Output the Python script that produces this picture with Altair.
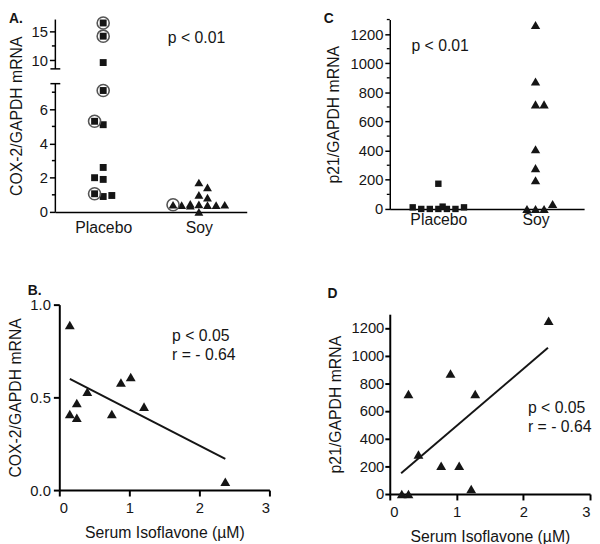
import altair as alt
import pandas as pd

FONT = "Liberation Sans"
INK = "#151515"
RING = "#555555"

# ---------------- Panel A: COX-2/GAPDH mRNA by group (broken y axis) ----------------
a_groups = ["Placebo", "Soy"]
a_placebo_values = [16.5, 14.2, 9.6, 7.1, 5.3, 5.1, 2.6, 2.0, 1.9, 1.06, 0.9, 0.96]
a_placebo_slots = [0, 0, 0, 0, -1, 0, 0, -1, 0, -1, 0, 1]
a_placebo_ring = [1, 1, 0, 1, 1, 0, 0, 0, 0, 1, 0, 0]
a_soy_values = [0.42, 0.40, 0.47, 0.36, 1.72, 1.0, 0.44, 0.0, 1.43, 0.83, 0.40, 0.40, 0.42]
a_soy_slots = [-3, -2, -1, -1, 0, 0, 0, 0, 1, 1, 1, 2, 3]
a_soy_ring = [1, 0, 0, 0, 0, 0, 0, 0, 0, 0, 0, 0, 0]
a_segments_lo = [0, 8.5]
a_segments_hi = [7.5, 17.1]
a_major_ticks = [0, 2, 4, 6, 10, 15]
a_minor_ticks = [1, 3, 5, 7, 12.5]
a_note = "p < 0.01"

# ---------------- Panel C: p21/GAPDH mRNA by group ----------------
c_placebo_values = [11, 0, 0, 0, 173, 16, 0, 0, 11]
c_placebo_slots = [-3, -2, -1, 0, 0, 0.5, 1, 2, 3]
c_soy_values = [1263, 875, 718, 410, 280, 197, 0, 718, 0, 0, 34]
c_soy_slots = [0, 0, 0, 0, 0, 0, 0, 1, 1, -1, 2]
c_major_ticks = [0, 200, 400, 600, 800, 1000, 1200]
c_minor_ticks = [100, 300, 500, 700, 900, 1100, 1300]
c_note = "p < 0.01"

# ---------------- Panel B: COX-2 vs serum isoflavone ----------------
b_isoflavone = [0.15, 0.15, 0.25, 0.25, 0.40, 0.75, 0.88, 1.02, 1.21, 2.37]
b_cox2 = [0.89, 0.41, 0.47, 0.39, 0.53, 0.41, 0.58, 0.61, 0.45, 0.045]
b_fit_x = [0.15, 2.37]
b_fit_y = [0.60, 0.168]
b_notes = ["p < 0.05", "r = - 0.64"]

# ---------------- Panel D: p21 vs serum isoflavone ----------------
d_isoflavone = [0.18, 0.28, 0.28, 0.43, 0.77, 0.91, 1.04, 1.22, 1.28, 2.38]
d_p21 = [0, 0, 723, 286, 205, 871, 205, 36, 723, 1252]
d_fit_x = [0.17, 2.37]
d_fit_y = [150, 1057]
d_notes = ["p < 0.05", "r = - 0.64"]

x_title = "Serum Isoflavone (\u00b5M)"


def group_frame(values, slots, group, ring=None):
    return pd.DataFrame({
        "value": values,
        "slot": slots,
        "g": [group] * len(values),
        "ring": ring if ring is not None else [0] * len(values),
    })


def label(text, x, y):
    return alt.Chart(pd.DataFrame({"t": [text]})).mark_text(
        align="left", baseline="top", fontSize=14, fontWeight="bold", color=INK, font=FONT
    ).encode(x=alt.value(x), y=alt.value(y), text="t:N")


# ======================= Panel A =======================
a_df = pd.concat([
    group_frame(a_placebo_values, a_placebo_slots, 0, a_placebo_ring),
    group_frame(a_soy_values, a_soy_slots, 1, a_soy_ring),
], ignore_index=True)

xA = alt.Scale(domain=[0, 2], range=[0, 194], nice=False, zero=False)
yA = alt.Scale(domain=[0, 7.5, 8.5, 17.1], range=[195, 65, 50, 0], nice=False, zero=False)

a_x_axis = alt.Axis(values=[0.5, 1.5], labelExpr="datum.value < 1 ? 'Placebo' : 'Soy'",
                    ticks=False, labelPadding=8, labelFontSize=16, title=None, grid=False,
                    domainWidth=1.5)
a_y_axis = alt.Axis(values=a_major_ticks, format="d", title="COX-2/GAPDH mRNA", domain=False,
                    tickSize=6, tickWidth=1.5, labelPadding=2, titlePadding=7, grid=False)


def a_x(field):
    return alt.X(field, scale=xA, axis=a_x_axis)


def a_y(field):
    return alt.Y(field, scale=yA, axis=a_y_axis)


a_base = alt.Chart(a_df).transform_calculate(xpos="datum.g + 0.5 + datum.slot * 0.09")

a_placebo_pts = a_base.transform_filter("datum.g == 0").mark_point(
    shape="square", filled=True, size=49, color=INK, opacity=1
).encode(x=a_x("xpos:Q"), y=a_y("value:Q"))

a_soy_pts = a_base.transform_filter("datum.g == 1").mark_point(
    shape="triangle-up", filled=True, size=81, color=INK, opacity=1
).encode(x=a_x("xpos:Q"), y=a_y("value:Q"))

a_rings = a_base.transform_filter("datum.ring == 1").mark_point(
    shape="circle", filled=False, size=150, stroke=RING, strokeWidth=1.6, opacity=1
).encode(x=a_x("xpos:Q"), y=a_y("value:Q"))

a_seg = alt.Chart(pd.DataFrame({"lo": a_segments_lo, "hi": a_segments_hi})).mark_rule(
    color="black", strokeWidth=1.5
).encode(x=alt.value(0), y=a_y("lo:Q"), y2="hi:Q")

a_breaks = alt.Chart(pd.DataFrame({"v": [a_segments_hi[0], a_segments_lo[1]]})).mark_rule(
    color="black", strokeWidth=1.5
).encode(x=alt.value(-5), x2=alt.value(5), y=a_y("v:Q"))

a_minor = alt.Chart(pd.DataFrame({"v": a_minor_ticks})).mark_rule(
    color="black", strokeWidth=1.5
).encode(x=alt.value(-3.5), x2=alt.value(0), y=a_y("v:Q"))

a_text = alt.Chart(pd.DataFrame({"t": [a_note], "x": [1.175], "y": [13.83]})).mark_text(
    align="left", baseline="middle", fontSize=16, color=INK, font=FONT
).encode(x=a_x("x:Q"), y=a_y("y:Q"), text="t:N")

panel_a = alt.layer(a_placebo_pts, a_soy_pts, a_rings, a_seg, a_breaks, a_minor, a_text,
                    label("A.", -47, -8)).properties(width=221, height=195)

# ======================= Panel C =======================
c_df = pd.concat([
    group_frame(c_placebo_values, c_placebo_slots, 0),
    group_frame(c_soy_values, c_soy_slots, 1),
], ignore_index=True)

xC = alt.Scale(domain=[0, 2], nice=False, zero=False)
yC = alt.Scale(domain=[0, 1300], nice=False, zero=True)

c_x_axis = alt.Axis(values=[0.5, 1.5], labelExpr="datum.value < 1 ? 'Placebo' : 'Soy'",
                    ticks=False, labelPadding=3, labelFontSize=16, title=None, grid=False,
                    domainWidth=1.5)
c_y_axis = alt.Axis(values=c_major_ticks, format="d", title="p21/GAPDH mRNA", tickSize=5,
                    tickWidth=1.5, domainWidth=1.5, labelPadding=2, titlePadding=9, grid=False)


def c_x(field):
    return alt.X(field, scale=xC, axis=c_x_axis)


def c_y(field):
    return alt.Y(field, scale=yC, axis=c_y_axis)


c_base = alt.Chart(c_df).transform_calculate(xpos="datum.g + 0.5 + datum.slot * 0.088")

c_placebo_pts = c_base.transform_filter("datum.g == 0").mark_point(
    shape="square", filled=True, size=42, color=INK, opacity=1
).encode(x=c_x("xpos:Q"), y=c_y("value:Q"))

c_soy_pts = c_base.transform_filter("datum.g == 1").mark_point(
    shape="triangle-up", filled=True, size=90, color=INK, opacity=1
).encode(x=c_x("xpos:Q"), y=c_y("value:Q"))

c_minor = alt.Chart(pd.DataFrame({"v": c_minor_ticks})).mark_rule(
    color="black", strokeWidth=1.3
).encode(x=alt.value(-3), x2=alt.value(0), y=c_y("v:Q"))

c_text = alt.Chart(pd.DataFrame({"t": [c_note], "x": [0.223], "y": [1117]})).mark_text(
    align="left", baseline="middle", fontSize=16, color=INK, font=FONT
).encode(x=c_x("x:Q"), y=c_y("y:Q"), text="t:N")

panel_c = alt.layer(c_placebo_pts, c_soy_pts, c_minor, c_text,
                    label("C", -67, -8)).properties(width=197, height=192)

# ======================= Panel B =======================
xB = alt.Scale(domain=[0, 3], range=[4, 217], nice=False, zero=False)
yB = alt.Scale(domain=[0, 1], nice=False, zero=False)
b_x_axis = alt.Axis(values=[0, 1, 2, 3], format="d", title=x_title, tickSize=6, tickWidth=2,
                    domainWidth=2, labelPadding=5, titlePadding=9, grid=False)
b_y_axis = alt.Axis(values=[0, 0.5, 1], format=".1f", title="COX-2/GAPDH mRNA", offset=-4,
                    tickSize=6, tickWidth=2, domainWidth=2, labelPadding=3, titlePadding=6,
                    grid=False)


def b_x(field):
    return alt.X(field, scale=xB, axis=b_x_axis)


def b_y(field):
    return alt.Y(field, scale=yB, axis=b_y_axis)


b_pts = alt.Chart(pd.DataFrame({"x": b_isoflavone, "y": b_cox2})).mark_point(
    shape="triangle-up", filled=True, size=100, color=INK, opacity=1
).encode(x=b_x("x:Q"), y=b_y("y:Q"))

b_fit = alt.Chart(pd.DataFrame({"x": b_fit_x, "y": b_fit_y})).mark_line(
    color=INK, strokeWidth=2
).encode(x=b_x("x:Q"), y=b_y("y:Q"))

b_text = alt.Chart(pd.DataFrame({"t": b_notes, "x": [1.61, 1.61], "y": [0.83, 0.729]})).mark_text(
    align="left", baseline="middle", fontSize=16, color=INK, font=FONT
).encode(x=b_x("x:Q"), y=b_y("y:Q"), text="t:N")

panel_b = alt.layer(b_pts, b_fit, b_text, label("B.", -28, -21)).properties(width=217, height=188)

# ======================= Panel D =======================
xD = alt.Scale(domain=[0, 3], nice=False, zero=False)
yD = alt.Scale(domain=[0, 1300], range=[192, 9.7], nice=False, zero=False)
d_x_axis = alt.Axis(values=[0, 1, 2, 3], format="d", title=x_title, tickSize=6, tickWidth=2,
                    domainWidth=2, labelPadding=5, titlePadding=9, grid=False)
d_y_axis = alt.Axis(values=c_major_ticks, format="d", title="p21/GAPDH mRNA", tickSize=5,
                    tickWidth=2, domainWidth=2, labelPadding=1, titlePadding=8, grid=False)


def d_x(field):
    return alt.X(field, scale=xD, axis=d_x_axis)


def d_y(field):
    return alt.Y(field, scale=yD, axis=d_y_axis)


d_pts = alt.Chart(pd.DataFrame({"x": d_isoflavone, "y": d_p21})).mark_point(
    shape="triangle-up", filled=True, size=100, color=INK, opacity=1
).encode(x=d_x("x:Q"), y=d_y("y:Q"))

d_fit = alt.Chart(pd.DataFrame({"x": d_fit_x, "y": d_fit_y})).mark_line(
    color=INK, strokeWidth=2
).encode(x=d_x("x:Q"), y=d_y("y:Q"))

d_text = alt.Chart(pd.DataFrame({"t": d_notes, "x": [2.07, 2.07], "y": [620, 485]})).mark_text(
    align="left", baseline="middle", fontSize=16, color=INK, font=FONT
).encode(x=d_x("x:Q"), y=d_y("y:Q"), text="t:N")

panel_d = alt.layer(d_pts, d_fit, d_text, label("D", -63, -18)).properties(width=203, height=192)

chart = alt.concat(
    panel_a, panel_c, panel_b, panel_d,
    columns=2, spacing={"row": 94, "column": 118}, bounds="flush", align="none",
).properties(padding=0, background="white").configure(font=FONT).configure_view(
    stroke=None
).configure_axis(
    labelFont=FONT, titleFont=FONT, labelFontSize=15, titleFontSize=16,
    titleFontWeight="normal", labelColor=INK, titleColor=INK,
    domainColor="black", tickColor="black",
)

chart.save("out.html", embed_options={"renderer": "svg", "actions": False})
